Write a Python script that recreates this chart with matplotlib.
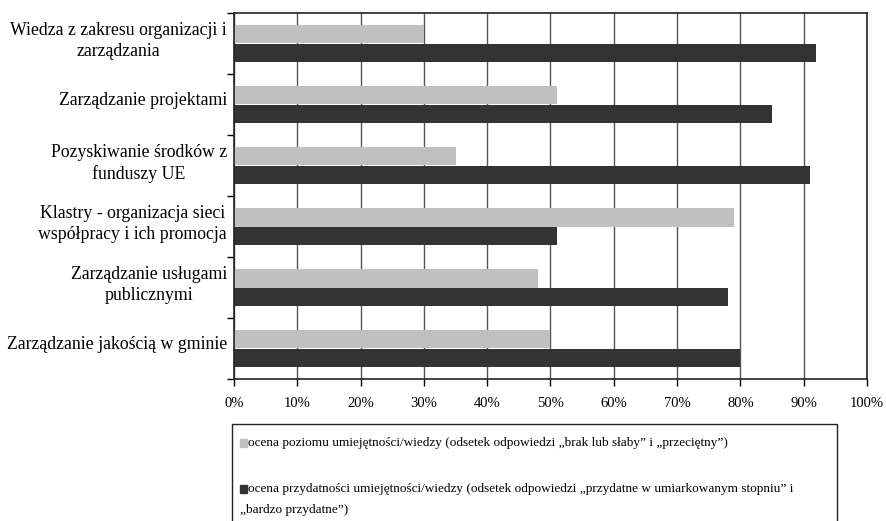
import numpy as np
import matplotlib as mpl
import matplotlib.pyplot as plt
from matplotlib.patches import Rectangle
from matplotlib.ticker import PercentFormatter

mpl.use('Agg')
plt.rcParams['font.family'] = ['Liberation Serif', 'DejaVu Serif']

categories = ['Wiedza z zakresu organizacji i\nzarządzania',
              'Zarządzanie projektami',
              'Pozyskiwanie środków z\nfunduszy UE',
              'Klastry - organizacja sieci\nwspółpracy i ich promocja',
              'Zarządzanie usługami\npublicznymi',
              'Zarządzanie jakością w gminie']
poziom = [30, 51, 35, 79, 48, 50]        # ocena poziomu (szary)
przydatnosc = [92, 85, 91, 51, 78, 80]   # ocena przydatności (czarny)
legend_labels = ['ocena poziomu umiejętności/wiedzy (odsetek odpowiedzi „brak lub słaby” i „przeciętny”)',
                 'ocena przydatności umiejętności/wiedzy (odsetek odpowiedzi „przydatne w umiarkowanym stopniu” i\n„bardzo przydatne”)']

GRAY = '#c0c0c0'
DARK = '#333333'

fig = plt.figure(figsize=(8.87, 5.21), dpi=100)
W, H = 887, 521
ax = fig.add_axes([234 / W, 1 - 379 / H, (867 - 234) / W, (379 - 13) / H])

y = np.arange(len(categories))
h = 0.297
ax.barh(y - h / 2, poziom, height=h, color=GRAY, zorder=2)
ax.barh(y + h / 2, przydatnosc, height=h, color=DARK, zorder=2)

ax.set_xlim(0, 100)
ax.set_ylim(len(categories) - 0.5, -0.5)
ax.set_xticks(np.arange(0, 101, 10))
ax.xaxis.set_major_formatter(PercentFormatter(decimals=0))
# etykiety lekko nad srodkiem kategorii, jak w oryginale
ax.set_yticks(y - 0.1)
ax.set_yticklabels(categories, multialignment='center', fontsize=12.8, linespacing=1.3)
ax.set_yticks(np.arange(-0.5, len(categories), 1), minor=True)
ax.tick_params(axis='y', which='major', length=0, pad=5)
ax.tick_params(axis='y', which='minor', length=5, width=1, direction='out')
ax.tick_params(axis='x', length=5, width=1, direction='out', pad=8, labelsize=10.5)
ax.grid(axis='x', color='#555555', linewidth=1, zorder=0)
ax.set_axisbelow(True)
for s in ax.spines.values():
    s.set_linewidth(1.2)
    s.set_color('#222222')

# legenda rysowana recznie (tekst zawija sie pod znacznikiem)
fig.patches.append(Rectangle((232 / W, 1 - 530 / H), (837 - 232) / W, (530 - 424) / H,
                             transform=fig.transFigure, fill=False, edgecolor='#222222',
                             linewidth=1, clip_on=False))
for col, ypix in [(GRAY, 443), (DARK, 489)]:
    fig.patches.append(Rectangle((240 / W, 1 - (ypix + 4) / H), 7 / W, 8 / H,
                                 transform=fig.transFigure, color=col))
fig.text(248 / W, 1 - 443 / H, legend_labels[0], fontsize=9.5, va='center')
l1, l2 = legend_labels[1].split('\n')
fig.text(248 / W, 1 - 489 / H, l1, fontsize=9.5, va='center')
fig.text(240 / W, 1 - 510 / H, l2, fontsize=9.5, va='center')

fig.savefig('out.png', dpi=100)
